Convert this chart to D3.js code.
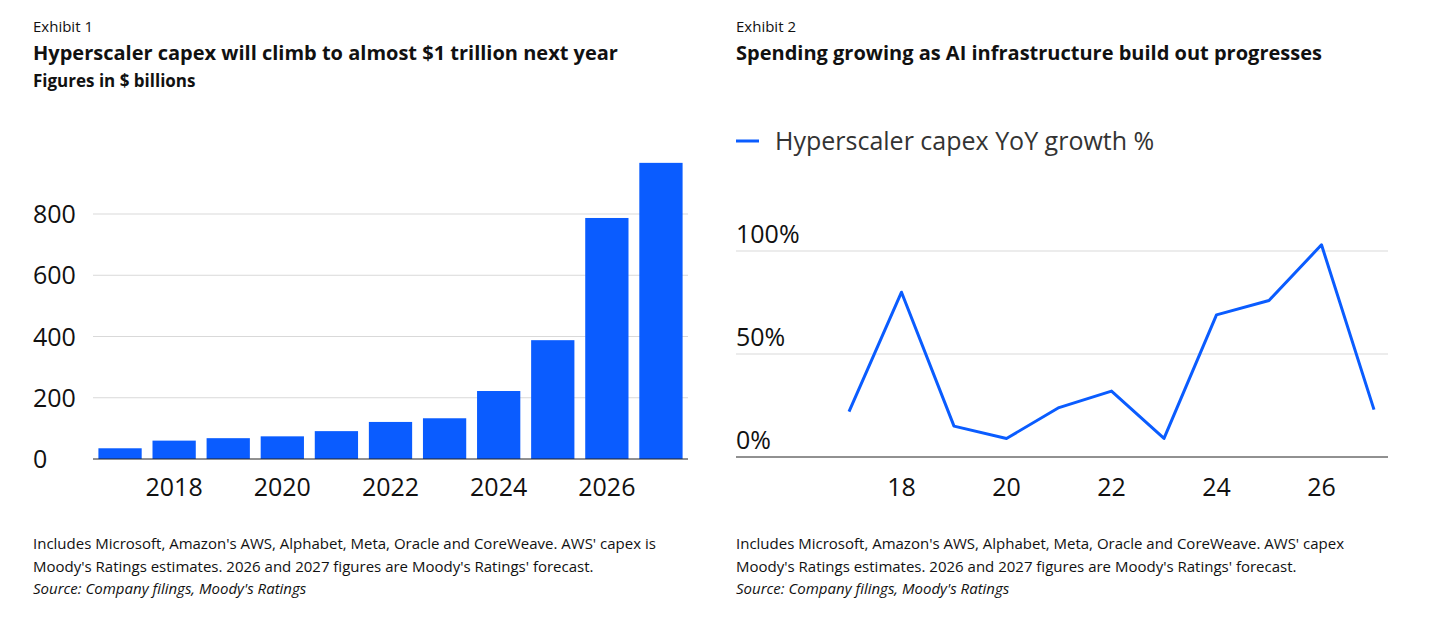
<!DOCTYPE html>
<html><head><meta charset="utf-8">
<script src="https://cdn.jsdelivr.net/npm/d3@7"></script>
<style>
body{margin:0;background:#fff;font-family:"Open Sans",sans-serif;}
</style></head>
<body><svg id="c" width="1439" height="624"></svg>
<script>
const years = [2017,2018,2019,2020,2021,2022,2023,2024,2025,2026,2027];
const capex = [35,60,68,74,91,121,133,222,388,787,967];
const growthYears = [17,18,19,20,21,22,23,24,25,26,27];
const growth = [22,80,15,9,24,32,9,69,76,103,23];
const capexTicks = [0,200,400,600,800];
const growthTicks = [0,50,100];
const blue = "#0a5cff";

const svg = d3.select("#c");

function text(x, y, s, size, weight, style) {
  svg.append("text").attr("x", x).attr("y", y).text(s)
    .attr("font-size", size).attr("font-weight", weight || 400)
    .attr("font-style", style || "normal").attr("fill", "#111");
}

// headers
text(33, 32, "Exhibit 1", 15);
text(33, 60, "Hyperscaler capex will climb to almost $1 trillion next year", 20, 700);
text(33, 87, "Figures in $ billions", 17, 700);
text(736, 32, "Exhibit 2", 15);
text(736, 60, "Spending growing as AI infrastructure build out progresses", 20, 700);

// notes
[[33, "Includes Microsoft, Amazon's AWS, Alphabet, Meta, Oracle and CoreWeave. AWS' capex is"],
 [736, "Includes Microsoft, Amazon's AWS, Alphabet, Meta, Oracle and CoreWeave. AWS' capex"]].forEach(([x, s]) => {
  text(x, 549, s, 15);
  text(x, 572, "Moody's Ratings estimates. 2026 and 2027 figures are Moody's Ratings' forecast.", 15);
  text(x, 594, "Source: Company filings, Moody's Ratings", 15, 400, "italic");
});

// left bar chart
const x1 = d3.scaleBand().domain(years).range([93, 688]).paddingInner(0.2).paddingOuter(0.1);
const y1 = d3.scaleLinear().domain([0, 800]).range([459, 214]);
const g1 = svg.append("g");
g1.selectAll("line.grid").data(capexTicks.slice(1)).join("line")
  .attr("x1", 93).attr("x2", 688).attr("y1", d => y1(d)).attr("y2", d => y1(d))
  .attr("stroke", "#d9d9d9");
g1.selectAll("text.yl").data(capexTicks).join("text")
  .attr("x", 33).attr("y", d => y1(d) + 9).text(d => d)
  .attr("font-size", 25).attr("fill", "#111");
g1.selectAll("rect").data(years).join("rect")
  .attr("x", d => x1(d)).attr("width", x1.bandwidth())
  .attr("y", (d, i) => y1(capex[i])).attr("height", (d, i) => y1(0) - y1(capex[i]))
  .attr("fill", blue);
g1.append("line").attr("x1", 93).attr("x2", 688).attr("y1", 459).attr("y2", 459).attr("stroke", "#222");
g1.selectAll("text.xl").data(years.filter(d => d % 2 === 0)).join("text")
  .attr("x", d => x1(d) + x1.bandwidth() / 2).attr("y", 496).attr("text-anchor", "middle")
  .text(d => d).attr("font-size", 25).attr("fill", "#111");

// right line chart
const x2 = d3.scaleLinear().domain([17, 27]).range([849, 1374]);
const y2 = d3.scaleLinear().domain([0, 100]).range([457, 251]);
const g2 = svg.append("g");
g2.append("line").attr("x1", 736).attr("x2", 759).attr("y1", 141).attr("y2", 141).attr("stroke", blue).attr("stroke-width", 3);
g2.append("text").attr("x", 775).attr("y", 150).text("Hyperscaler capex YoY growth %").attr("font-size", 25).attr("fill", "#333");
g2.selectAll("line.grid").data(growthTicks.slice(1)).join("line")
  .attr("x1", 736).attr("x2", 1388).attr("y1", d => y2(d)).attr("y2", d => y2(d))
  .attr("stroke", "#d9d9d9");
g2.selectAll("text.yl").data(growthTicks).join("text")
  .attr("x", 736).attr("y", d => y2(d) - 8).text(d => d + "%")
  .attr("font-size", 25).attr("fill", "#111");
g2.append("line").attr("x1", 736).attr("x2", 1388).attr("y1", 457).attr("y2", 457).attr("stroke", "#222");
g2.append("path").datum(growthYears)
  .attr("d", d3.line().x(d => x2(d)).y((d, i) => y2(growth[i])))
  .attr("fill", "none").attr("stroke", blue).attr("stroke-width", 3).attr("stroke-linejoin", "round");
g2.selectAll("text.xl").data(growthYears.filter(d => d % 2 === 0)).join("text")
  .attr("x", d => x2(d)).attr("y", 496).attr("text-anchor", "middle")
  .text(d => d).attr("font-size", 25).attr("fill", "#111");
</script></body></html>
